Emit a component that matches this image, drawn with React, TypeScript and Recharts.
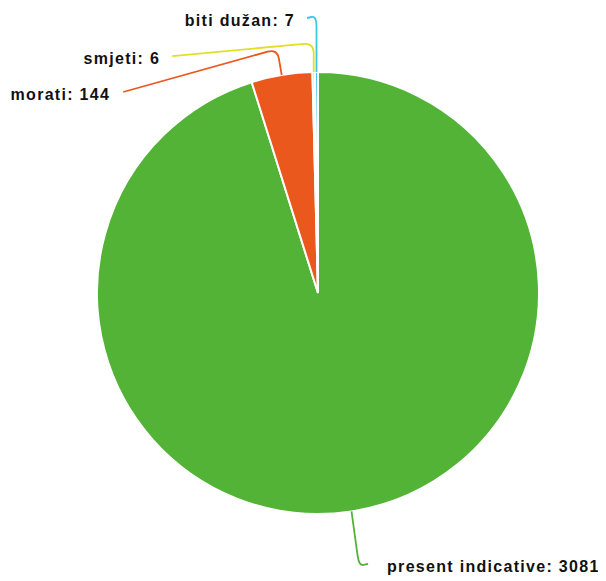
import React from 'react';
import { PieChart, Pie, Cell } from 'recharts';

const categories = ['present indicative', 'morati', 'smjeti', 'biti dužan'];
const counts = [3081, 144, 6, 7];
const colors = ['#52b336', '#eb581e', '#e4df26', '#3ec6e9'];

// label routing: elbow and end offsets from the slice's outer point
const labelRoutes = [
  { elbow: [7.5, 54.5], end: [16.5, 52.5], side: 'start', gap: 19, dy: 8 },
  { elbow: [-4.5, -26], end: [-158.5, 17], side: 'end', gap: 13, dy: 8.5 },
  { elbow: [0, -29], end: [-141.5, -16], side: 'end', gap: 12, dy: 7.5 },
  { elbow: [0, -56], end: [-9.5, -54], side: 'end', gap: 12, dy: 7.5 },
];

const data = categories.map((name, i) => ({ name, value: counts[i] }));

const RADIAN = Math.PI / 180;

const renderLabel = (props: any) => {
  const { cx, cy, midAngle, outerRadius, index, name, value } = props;
  const route = labelRoutes[index];
  const x0 = cx + outerRadius * Math.cos(-midAngle * RADIAN);
  const y0 = cy + outerRadius * Math.sin(-midAngle * RADIAN);
  const ex = x0 + route.elbow[0];
  const ey = y0 + route.elbow[1];
  const lx = x0 + route.end[0];
  const ly = y0 + route.end[1];
  // rounded corner at the elbow
  const r = 10;
  const d1 = Math.hypot(ex - x0, ey - y0) || 1;
  const d2 = Math.hypot(lx - ex, ly - ey) || 1;
  const ax = ex - ((ex - x0) / d1) * Math.min(r, d1 / 2);
  const ay = ey - ((ey - y0) / d1) * Math.min(r, d1 / 2);
  const bx = ex + ((lx - ex) / d2) * Math.min(r, d2 / 2);
  const by = ey + ((ly - ey) / d2) * Math.min(r, d2 / 2);
  const tx = route.side === 'start' ? lx + route.gap : lx - route.gap;
  return (
    <g>
      <path
        d={`M${x0},${y0} L${ax},${ay} Q${ex},${ey} ${bx},${by} L${lx},${ly}`}
        stroke={colors[index]}
        strokeWidth={1.8}
        fill="none"
      />
      <text
        x={tx}
        y={ly}
        dy={route.dy}
        textAnchor={route.side}
        fill="#111"
        fontSize={16}
        fontWeight="bold"
        letterSpacing={1.3}
        fontFamily="'Liberation Sans', Arial, sans-serif"
      >
        {`${name}: ${value}`}
      </text>
    </g>
  );
};

export default function App() {
  return (
    <PieChart width={598} height={573}>
      <Pie
        data={data}
        dataKey="value"
        nameKey="name"
        cx={305}
        cy={280}
        outerRadius={221}
        startAngle={90}
        endAngle={-270}
        stroke="#ffffff"
        strokeWidth={2}
        label={renderLabel}
        labelLine={false}
        isAnimationActive={false}
      >
        {data.map((d, i) => (
          <Cell key={d.name} fill={colors[i]} />
        ))}
      </Pie>
    </PieChart>
  );
}
